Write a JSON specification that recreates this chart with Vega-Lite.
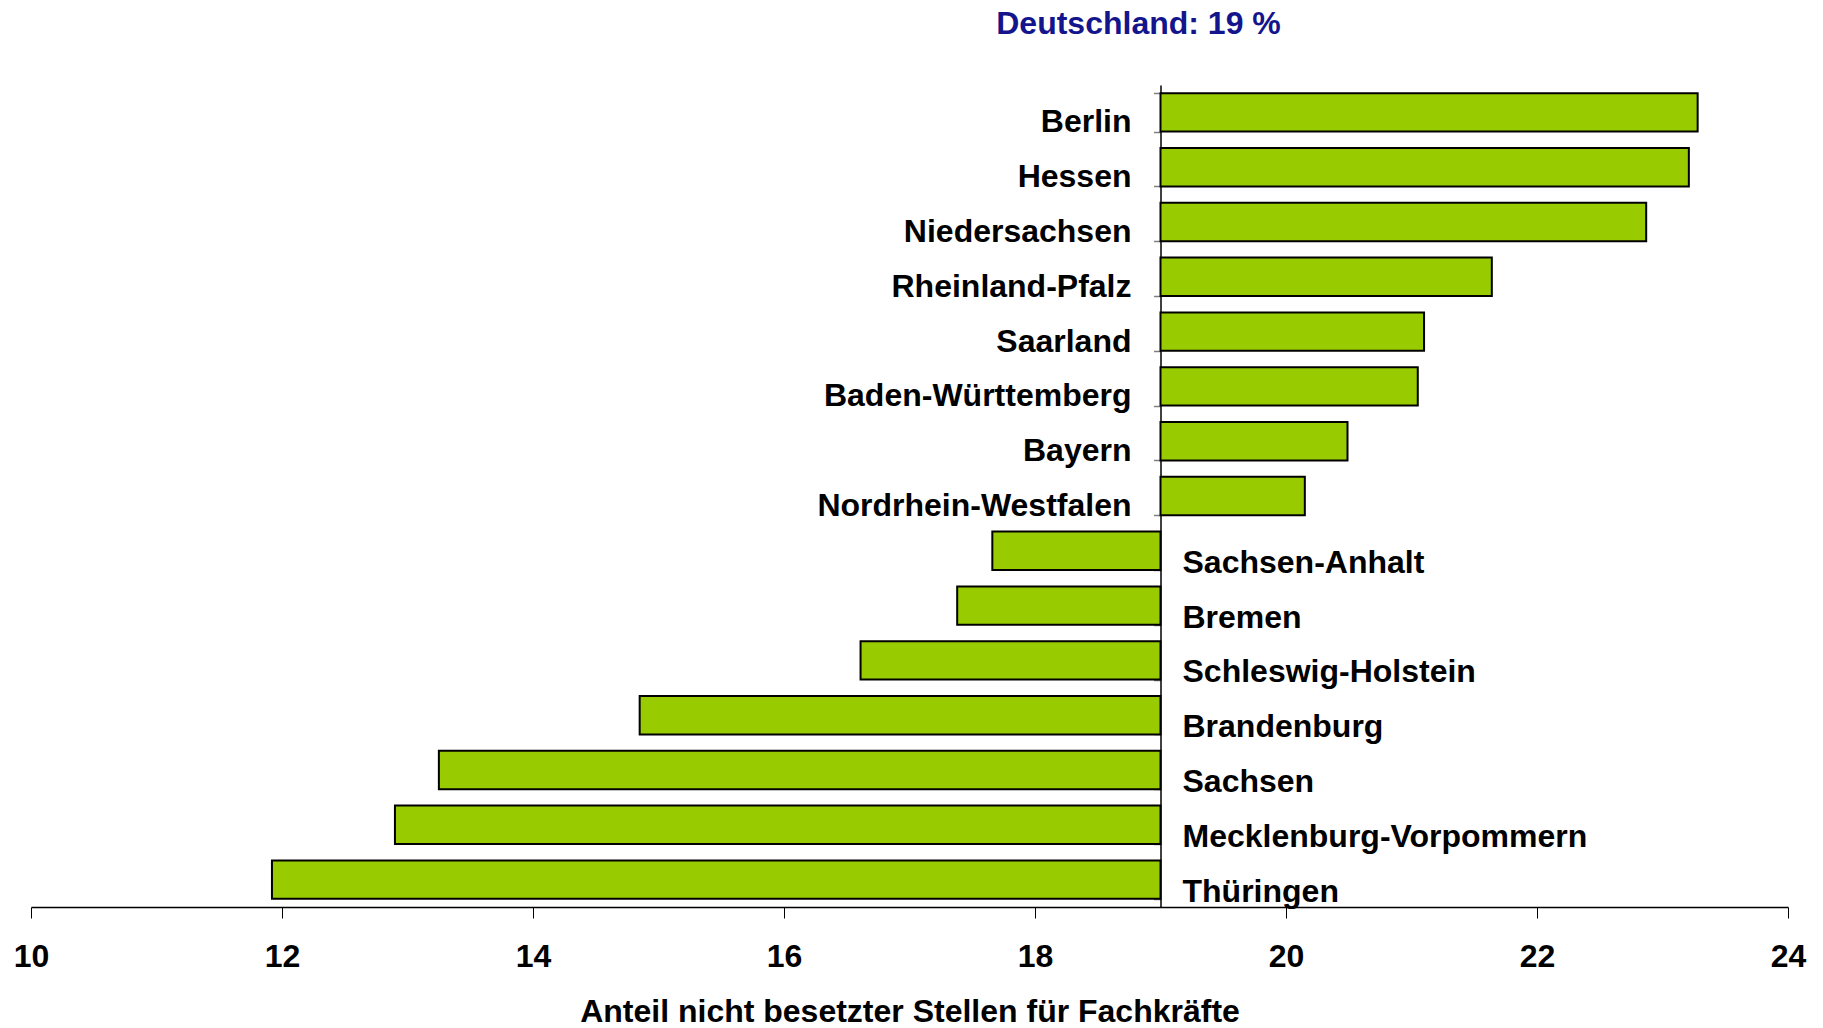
{
  "$schema": "https://vega.github.io/schema/vega-lite/v6.json",
  "width": 1757,
  "height": 822,
  "autosize": "none",
  "padding": {"left": 31, "top": 85, "right": 35, "bottom": 121},
  "background": "white",
  "config": {"view": {"stroke": null}, "font": "Liberation Sans"},
  "title": {
    "text": "Deutschland: 19 %",
    "color": "#14148c",
    "fontSize": 32,
    "fontWeight": "bold",
    "font": "Liberation Sans",
    "anchor": "middle",
    "frame": "group",
    "dx": 229,
    "offset": 44
  },
  "data": {
    "values": [
      {"land": "Berlin", "wert": 23.28},
      {"land": "Hessen", "wert": 23.21},
      {"land": "Niedersachsen", "wert": 22.87},
      {"land": "Rheinland-Pfalz", "wert": 21.64},
      {"land": "Saarland", "wert": 21.1},
      {"land": "Baden-Württemberg", "wert": 21.05},
      {"land": "Bayern", "wert": 20.49},
      {"land": "Nordrhein-Westfalen", "wert": 20.15},
      {"land": "Sachsen-Anhalt", "wert": 17.66},
      {"land": "Bremen", "wert": 17.38},
      {"land": "Schleswig-Holstein", "wert": 16.61},
      {"land": "Brandenburg", "wert": 14.85},
      {"land": "Sachsen", "wert": 13.25},
      {"land": "Mecklenburg-Vorpommern", "wert": 12.9},
      {"land": "Thüringen", "wert": 11.92}
    ]
  },
  "encoding": {
    "y": {
      "field": "land",
      "type": "nominal",
      "sort": ["Berlin", "Hessen", "Niedersachsen", "Rheinland-Pfalz", "Saarland", "Baden-Württemberg", "Bayern", "Nordrhein-Westfalen", "Sachsen-Anhalt", "Bremen", "Schleswig-Holstein", "Brandenburg", "Sachsen", "Mecklenburg-Vorpommern", "Thüringen"],
      "scale": {"paddingInner": 0.3, "paddingOuter": 0.15},
      "axis": {
        "orient": "left",
        "offset": -1129.5,
        "labels": false,
        "title": null,
        "domainColor": "black",
        "domainWidth": 1.5,
        "ticks": true,
        "tickBand": "extent",
        "tickColor": "#808080",
        "tickSize": 7,
        "tickWidth": 1.5,
        "grid": false
      }
    }
  },
  "layer": [
    {
      "mark": {"type": "bar", "fill": "#99cc00", "stroke": "black", "strokeWidth": 2},
      "encoding": {
        "x": {
          "field": "wert",
          "type": "quantitative",
          "scale": {"domain": [10, 24], "nice": false, "zero": false},
          "axis": {
            "values": [10, 12, 14, 16, 18, 20, 22, 24],
            "format": "d",
            "domainColor": "black",
            "domainWidth": 1.5,
            "tickColor": "black",
            "tickSize": 11,
            "tickWidth": 1,
            "labelFontSize": 32,
            "labelFontWeight": "bold",
            "labelColor": "black",
            "labelPadding": 23,
            "labelFont": "Liberation Sans",
            "labelFlush": false,
            "grid": false,
            "title": "Anteil nicht besetzter Stellen für Fachkräfte",
            "titleFont": "Liberation Sans",
            "titleFontSize": 32,
            "titleFontWeight": "bold",
            "titleColor": "black",
            "titlePadding": 24
          }
        },
        "x2": {"datum": 19}
      }
    },
    {
      "transform": [{"filter": "datum.wert >= 19"}],
      "mark": {"type": "text", "align": "right", "baseline": "alphabetic", "dx": -29, "dy": 20, "fontSize": 32, "fontWeight": "bold", "font": "Liberation Sans", "color": "black"},
      "encoding": {
        "x": {"datum": 19, "type": "quantitative"},
        "text": {"field": "land"}
      }
    },
    {
      "transform": [{"filter": "datum.wert < 19"}],
      "mark": {"type": "text", "align": "left", "baseline": "alphabetic", "dx": 22, "dy": 22, "fontSize": 32, "fontWeight": "bold", "font": "Liberation Sans", "color": "black"},
      "encoding": {
        "x": {"datum": 19, "type": "quantitative"},
        "text": {"field": "land"}
      }
    }
  ]
}
